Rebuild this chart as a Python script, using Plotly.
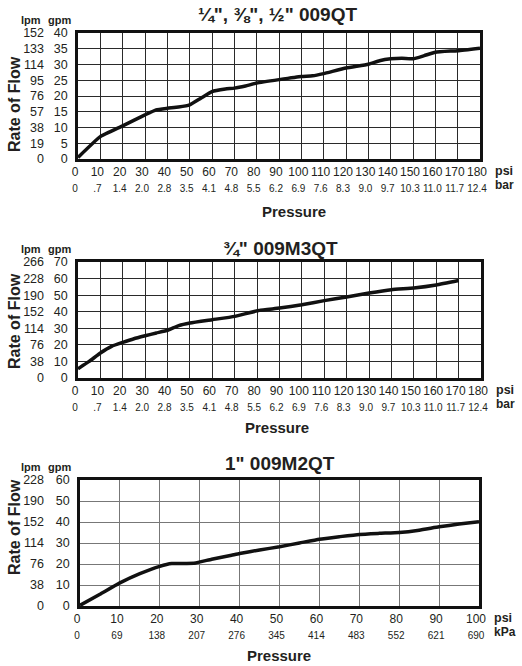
"""
Flow rate vs. pressure charts for the 009QT, 009M3QT and 009M2QT valves
"""

import plotly.graph_objects as go

# ---- data (flow in gpm, pressure in psi) ----
top_psi = [0, 10, 20, 30, 35, 40, 45, 50, 55, 60, 66, 70, 75, 80, 90, 100, 105,
           110, 120, 130, 135, 140, 145, 150, 155, 160, 170, 180]
top_gpm = [0.5, 7.1, 10.5, 14.0, 15.6, 16.1, 16.5, 17.2, 19.3, 21.4, 22.2, 22.5,
           23.2, 24.1, 25.2, 26.2, 26.4, 27.1, 28.9, 30.1, 31.2, 31.8, 32.0, 31.8,
           32.8, 33.9, 34.4, 35.2]

mid_psi = [0, 5, 10, 15, 20, 25, 30, 35, 40, 45, 50, 60, 70, 76, 81, 90, 100,
           110, 120, 130, 140, 150, 160, 170]
mid_gpm = [5.6, 10.0, 15.1, 19.1, 21.5, 23.7, 25.5, 27.2, 28.8, 31.6, 33.2, 35.2,
           37.2, 39.2, 40.8, 42.2, 44.2, 46.7, 48.9, 51.3, 53.3, 54.3, 56.1, 58.8]

bot_psi = [0, 5, 10, 15, 20, 23, 25.5, 29, 33, 38, 40, 45, 50, 55, 60, 65, 70,
           75, 80, 85, 90, 95, 100]
bot_gpm = [0.3, 5.6, 11.0, 15.4, 18.9, 20.2, 20.2, 20.5, 22.3, 24.2, 25.0, 26.7,
           28.2, 30.0, 31.8, 33.0, 34.1, 34.6, 35.0, 36.1, 37.7, 39.0, 40.1]

# ---- tick labels ----
psi_ticks_180 = list(range(0, 181, 10))
bar_labels = ["0", ".7", "1.4", "2.0", "2.8", "3.5", "4.1", "4.8", "5.5", "6.2",
              "6.9", "7.6", "8.3", "9.0", "9.7", "10.3", "11.0", "11.7", "12.4"]
psi_ticks_100 = list(range(0, 101, 10))
kpa_labels = ["0", "69", "138", "207", "276", "345", "414", "483", "552", "621", "690"]

top_gpm_ticks = list(range(0, 41, 5))
top_lpm_labels = ["0", "19", "38", "57", "76", "95", "114", "133", "152"]
mid_gpm_ticks = list(range(0, 71, 10))
mid_lpm_labels = ["0", "38", "76", "114", "152", "190", "228", "266"]
bot_gpm_ticks = list(range(0, 61, 10))
bot_lpm_labels = ["0", "38", "76", "114", "152", "190", "228"]

titles = ["¼\", ⅜\", ½\" 009QT", "¾\" 009M3QT", "1\" 009M2QT"]

W, H = 522, 666
NARROW = "Liberation Sans Narrow, Arial Narrow, Liberation Sans, sans-serif"
BOLD = "Liberation Sans, Arial, sans-serif"
INK = "#231f20"

# panel boxes in pixels: (left, top, right, bottom)
boxes = [(78, 33, 480, 159), (78, 262, 481, 378), (80, 480, 479, 606)]

panels = [
    dict(psi=top_psi, gpm=top_gpm, xt=psi_ticks_180, xsub=bar_labels, xr=180,
         yt=top_gpm_ticks, lpm=top_lpm_labels, yr=40, unit="bar",
         grid="#2a2a2a", title_x=277, title_y=15, press_x=294, press_y=212, rof_y=104),
    dict(psi=mid_psi, gpm=mid_gpm, xt=psi_ticks_180, xsub=bar_labels, xr=180,
         yt=mid_gpm_ticks, lpm=mid_lpm_labels, yr=70, unit="bar",
         grid="#2a2a2a", title_x=280, title_y=248, press_x=277, press_y=427, rof_y=321),
    dict(psi=bot_psi, gpm=bot_gpm, xt=psi_ticks_100, xsub=kpa_labels, xr=100,
         yt=bot_gpm_ticks, lpm=bot_lpm_labels, yr=60, unit="kPa",
         grid="#777777", title_x=280, title_y=464, press_x=279, press_y=655, rof_y=527),
]

fig = go.Figure()
layout = {}
annotations = []

for i, (p, box) in enumerate(zip(panels, boxes)):
    n = i + 1
    sx = "" if n == 1 else str(n)
    lpm_n = n + 3
    left, top, right, bottom = box
    xdom = [left / W, right / W]
    ydom = [1 - bottom / H, 1 - top / H]

    # flow curve
    fig.add_trace(go.Scatter(
        x=p["psi"], y=p["gpm"], mode="lines",
        line=dict(color="#111", width=3.5, shape="spline", smoothing=0.4),
        xaxis="x" + sx, yaxis="y" + sx, showlegend=False, hoverinfo="skip",
    ))
    # invisible copy so the lpm axis gets drawn
    fig.add_trace(go.Scatter(
        x=p["psi"], y=p["gpm"], mode="lines", line=dict(color="rgba(0,0,0,0)"),
        xaxis="x" + sx, yaxis="y%d" % lpm_n, showlegend=False, hoverinfo="skip",
    ))

    xt_text = ["%d<br><span style='font-size:10px'>%s</span>" % (v, s)
               for v, s in zip(p["xt"], p["xsub"])]

    layout["xaxis" + sx] = dict(
        domain=xdom, anchor="y" + sx, range=[0, p["xr"]], automargin=False,
        tickvals=p["xt"], ticktext=xt_text, ticks="", tickangle=0,
        ticklabelstandoff=0, ticklabelshift=-3,
        showgrid=True, gridcolor=p["grid"], gridwidth=1.2,
        showline=True, linecolor="#111", linewidth=2.6, mirror=True,
        zeroline=False, tickfont=dict(family=NARROW, size=12, color=INK),
    )
    layout["yaxis" + sx] = dict(
        domain=ydom, anchor="x" + sx, range=[0, p["yr"]], automargin=False,
        tickvals=p["yt"], ticktext=[str(v) for v in p["yt"]],
        ticks="", ticklabelstandoff=5,
        showgrid=True, gridcolor=p["grid"], gridwidth=1.2,
        showline=True, linecolor="#111", linewidth=2.6, mirror=True,
        zeroline=False, tickfont=dict(family=NARROW, size=12.5, color=INK),
    )
    layout["yaxis%d" % lpm_n] = dict(
        overlaying="y" + sx, anchor="free", side="left", position=44 / W,
        range=[0, p["yr"]], tickvals=p["yt"], ticktext=p["lpm"], automargin=False,
        ticks="", showgrid=False, showline=False, zeroline=False,
        ticklabelstandoff=0, tickfont=dict(family=NARROW, size=12.5, color=INK),
    )

    # text around the panel
    annotations += [
        dict(text="<b>%s</b>" % titles[i], x=p["title_x"] / W, y=1 - p["title_y"] / H,
             font=dict(family=BOLD, size=19, color=INK)),
        dict(text="<b>Pressure</b>", x=p["press_x"] / W, y=1 - p["press_y"] / H,
             font=dict(family=BOLD, size=15, color=INK)),
        dict(text="<b>Rate of Flow</b>", x=14 / W, y=1 - p["rof_y"] / H, textangle=-90,
             font=dict(family=BOLD, size=16, color=INK)),
        dict(text="<b>lpm</b>", x=31 / W, y=1 - (top - 13) / H,
             font=dict(family=NARROW, size=11, color=INK)),
        dict(text="<b>gpm</b>", x=59 / W, y=1 - (top - 13) / H,
             font=dict(family=NARROW, size=11, color=INK)),
        dict(text="<b>psi</b>", x=(right + 13) / W, y=1 - (bottom + 12) / H, xanchor="left",
             font=dict(family=NARROW, size=12.5, color=INK)),
        dict(text="<b>%s</b>" % p["unit"], x=(right + 13) / W, y=1 - (bottom + 26) / H,
             xanchor="left", font=dict(family=NARROW, size=12, color=INK)),
    ]

for a in annotations:
    a.update(xref="paper", yref="paper", showarrow=False)
    a.setdefault("xanchor", "center")
    a.setdefault("yanchor", "middle")

fig.update_layout(
    width=W, height=H, margin=dict(l=0, r=0, t=0, b=0, autoexpand=False),
    paper_bgcolor="white", plot_bgcolor="white",
    annotations=annotations, **layout,
)

# drop the page's default body margin so the figure sits at the window corner
fig.write_html("out.html", config={"displayModeBar": False},
               post_script="document.body.style.margin='0';")
